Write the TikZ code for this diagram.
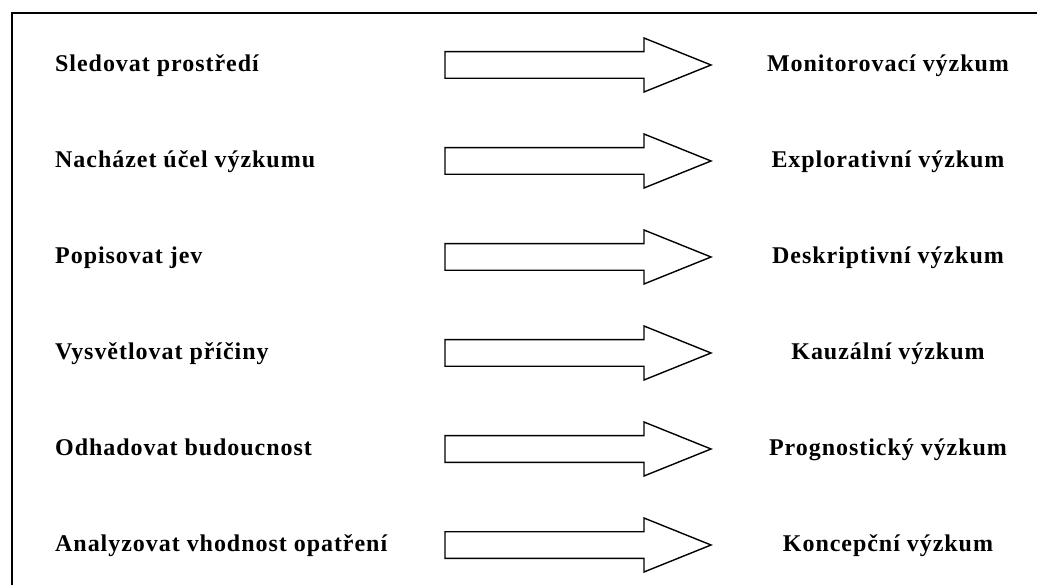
\documentclass[tikz,border=0pt]{standalone}
\usepackage{fontspec}
\setmainfont{Liberation Serif}[LetterSpace=4]
\begin{document}
\begin{tikzpicture}[x=1pt,y=1pt,
  frameline/.style={line width=2.8pt,black},
  arrowline/.style={line width=1.4pt,black,line join=miter},
  lefttext/.style={anchor=base west,inner sep=0pt,font=\fontsize{24}{28}\selectfont\bfseries},
  righttext/.style={anchor=base,inner sep=0pt,font=\fontsize{24}{28}\selectfont\bfseries},
  blockarrow/.pic={
    \draw[arrowline] (0,13.3) -- (199,13.3) -- (199,27) -- (266,0)
      -- (199,-27) -- (199,-13.3) -- (0,-13.3) -- cycle;
  }]
\useasboundingbox (0,0) rectangle (1037,-585);
\fill[white] (0,0) rectangle (1037,-585);
% outer frame (top and left edges)
\draw[frameline] (12,-585) -- (12,-13) -- (1037,-13);
% rows: goal -> type of research
\foreach \i/\goal/\kind in {
  0/Sledovat prostředí/Monitorovací výzkum,
  1/Nacházet účel výzkumu/Explorativní výzkum,
  2/Popisovat jev/Deskriptivní výzkum,
  3/Vysvětlovat příčiny/Kauzální výzkum,
  4/Odhadovat budoucnost/Prognostický výzkum,
  5/Analyzovat vhodnost opatření/Koncepční výzkum}{
  \coordinate (row\i) at (0,-65-96*\i);
  \node[lefttext] (goal\i) at ([shift={(55,-6.5)}]row\i) {\goal};
  \node[righttext] (kind\i) at ([shift={(888,-6.5)}]row\i) {\kind};
  \pic at ([xshift=445]row\i) {blockarrow};
}
\end{tikzpicture}
\end{document}
